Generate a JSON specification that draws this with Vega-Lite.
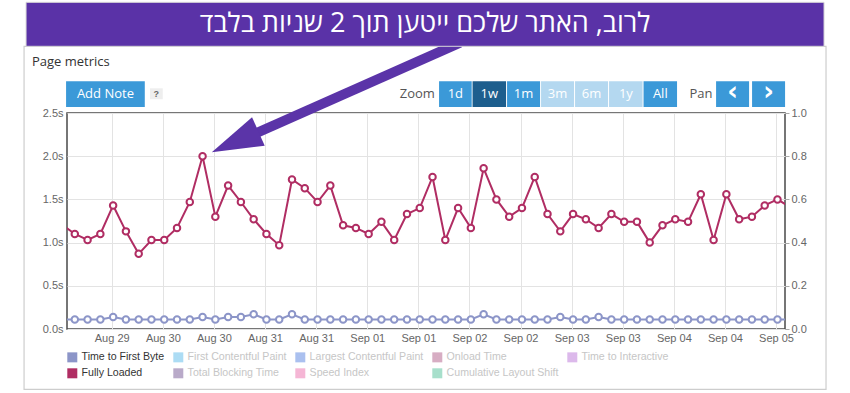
{
  "$schema": "https://vega.github.io/schema/vega-lite/v6.json",
  "width": 718,
  "height": 216,
  "autosize": {"type": "none"},
  "padding": {"left": 67, "top": 113, "right": 65, "bottom": 64},
  "background": "white",
  "config": {
    "view": {"stroke": "#4a4a4a", "strokeWidth": 1.5},
    "axis": {"labelFont": "Liberation Sans", "labelFontSize": 11, "labelColor": "#666666", "gridColor": "#e3e3e3", "gridWidth": 1, "domain": false, "ticks": false}
  },
  "datasets": {
    "metrics": [
      {"t": "2023-08-29T00:20:00Z", "metric": "Fully Loaded", "value": 1.21},
      {"t": "2023-08-29T03:20:00Z", "metric": "Fully Loaded", "value": 1.10},
      {"t": "2023-08-29T06:20:00Z", "metric": "Fully Loaded", "value": 1.03},
      {"t": "2023-08-29T09:20:00Z", "metric": "Fully Loaded", "value": 1.10},
      {"t": "2023-08-29T12:20:00Z", "metric": "Fully Loaded", "value": 1.43},
      {"t": "2023-08-29T15:20:00Z", "metric": "Fully Loaded", "value": 1.13},
      {"t": "2023-08-29T18:20:00Z", "metric": "Fully Loaded", "value": 0.87},
      {"t": "2023-08-29T21:20:00Z", "metric": "Fully Loaded", "value": 1.03},
      {"t": "2023-08-30T00:20:00Z", "metric": "Fully Loaded", "value": 1.03},
      {"t": "2023-08-30T03:20:00Z", "metric": "Fully Loaded", "value": 1.17},
      {"t": "2023-08-30T06:20:00Z", "metric": "Fully Loaded", "value": 1.47},
      {"t": "2023-08-30T09:20:00Z", "metric": "Fully Loaded", "value": 2.00},
      {"t": "2023-08-30T12:20:00Z", "metric": "Fully Loaded", "value": 1.30},
      {"t": "2023-08-30T15:20:00Z", "metric": "Fully Loaded", "value": 1.66},
      {"t": "2023-08-30T18:20:00Z", "metric": "Fully Loaded", "value": 1.47},
      {"t": "2023-08-30T21:20:00Z", "metric": "Fully Loaded", "value": 1.27},
      {"t": "2023-08-31T00:20:00Z", "metric": "Fully Loaded", "value": 1.10},
      {"t": "2023-08-31T03:20:00Z", "metric": "Fully Loaded", "value": 0.97},
      {"t": "2023-08-31T06:20:00Z", "metric": "Fully Loaded", "value": 1.73},
      {"t": "2023-08-31T09:20:00Z", "metric": "Fully Loaded", "value": 1.63},
      {"t": "2023-08-31T12:20:00Z", "metric": "Fully Loaded", "value": 1.47},
      {"t": "2023-08-31T15:20:00Z", "metric": "Fully Loaded", "value": 1.66},
      {"t": "2023-08-31T18:20:00Z", "metric": "Fully Loaded", "value": 1.20},
      {"t": "2023-08-31T21:20:00Z", "metric": "Fully Loaded", "value": 1.17},
      {"t": "2023-09-01T00:20:00Z", "metric": "Fully Loaded", "value": 1.10},
      {"t": "2023-09-01T03:20:00Z", "metric": "Fully Loaded", "value": 1.24},
      {"t": "2023-09-01T06:20:00Z", "metric": "Fully Loaded", "value": 1.03},
      {"t": "2023-09-01T09:20:00Z", "metric": "Fully Loaded", "value": 1.33},
      {"t": "2023-09-01T12:20:00Z", "metric": "Fully Loaded", "value": 1.40},
      {"t": "2023-09-01T15:20:00Z", "metric": "Fully Loaded", "value": 1.76},
      {"t": "2023-09-01T18:20:00Z", "metric": "Fully Loaded", "value": 1.03},
      {"t": "2023-09-01T21:20:00Z", "metric": "Fully Loaded", "value": 1.40},
      {"t": "2023-09-02T00:20:00Z", "metric": "Fully Loaded", "value": 1.17},
      {"t": "2023-09-02T03:20:00Z", "metric": "Fully Loaded", "value": 1.86},
      {"t": "2023-09-02T06:20:00Z", "metric": "Fully Loaded", "value": 1.50},
      {"t": "2023-09-02T09:20:00Z", "metric": "Fully Loaded", "value": 1.30},
      {"t": "2023-09-02T12:20:00Z", "metric": "Fully Loaded", "value": 1.40},
      {"t": "2023-09-02T15:20:00Z", "metric": "Fully Loaded", "value": 1.76},
      {"t": "2023-09-02T18:20:00Z", "metric": "Fully Loaded", "value": 1.33},
      {"t": "2023-09-02T21:20:00Z", "metric": "Fully Loaded", "value": 1.13},
      {"t": "2023-09-03T00:20:00Z", "metric": "Fully Loaded", "value": 1.33},
      {"t": "2023-09-03T03:20:00Z", "metric": "Fully Loaded", "value": 1.27},
      {"t": "2023-09-03T06:20:00Z", "metric": "Fully Loaded", "value": 1.17},
      {"t": "2023-09-03T09:20:00Z", "metric": "Fully Loaded", "value": 1.33},
      {"t": "2023-09-03T12:20:00Z", "metric": "Fully Loaded", "value": 1.24},
      {"t": "2023-09-03T15:20:00Z", "metric": "Fully Loaded", "value": 1.24},
      {"t": "2023-09-03T18:20:00Z", "metric": "Fully Loaded", "value": 1.00},
      {"t": "2023-09-03T21:20:00Z", "metric": "Fully Loaded", "value": 1.20},
      {"t": "2023-09-04T00:20:00Z", "metric": "Fully Loaded", "value": 1.27},
      {"t": "2023-09-04T03:20:00Z", "metric": "Fully Loaded", "value": 1.24},
      {"t": "2023-09-04T06:20:00Z", "metric": "Fully Loaded", "value": 1.56},
      {"t": "2023-09-04T09:20:00Z", "metric": "Fully Loaded", "value": 1.03},
      {"t": "2023-09-04T12:20:00Z", "metric": "Fully Loaded", "value": 1.56},
      {"t": "2023-09-04T15:20:00Z", "metric": "Fully Loaded", "value": 1.27},
      {"t": "2023-09-04T18:20:00Z", "metric": "Fully Loaded", "value": 1.30},
      {"t": "2023-09-04T21:20:00Z", "metric": "Fully Loaded", "value": 1.43},
      {"t": "2023-09-05T00:20:00Z", "metric": "Fully Loaded", "value": 1.50},
      {"t": "2023-09-05T03:20:00Z", "metric": "Fully Loaded", "value": 1.41},
      {"t": "2023-08-29T00:20:00Z", "metric": "Time to First Byte", "value": 0.11},
      {"t": "2023-08-29T03:20:00Z", "metric": "Time to First Byte", "value": 0.11},
      {"t": "2023-08-29T06:20:00Z", "metric": "Time to First Byte", "value": 0.11},
      {"t": "2023-08-29T09:20:00Z", "metric": "Time to First Byte", "value": 0.11},
      {"t": "2023-08-29T12:20:00Z", "metric": "Time to First Byte", "value": 0.14},
      {"t": "2023-08-29T15:20:00Z", "metric": "Time to First Byte", "value": 0.11},
      {"t": "2023-08-29T18:20:00Z", "metric": "Time to First Byte", "value": 0.11},
      {"t": "2023-08-29T21:20:00Z", "metric": "Time to First Byte", "value": 0.11},
      {"t": "2023-08-30T00:20:00Z", "metric": "Time to First Byte", "value": 0.11},
      {"t": "2023-08-30T03:20:00Z", "metric": "Time to First Byte", "value": 0.11},
      {"t": "2023-08-30T06:20:00Z", "metric": "Time to First Byte", "value": 0.11},
      {"t": "2023-08-30T09:20:00Z", "metric": "Time to First Byte", "value": 0.14},
      {"t": "2023-08-30T12:20:00Z", "metric": "Time to First Byte", "value": 0.11},
      {"t": "2023-08-30T15:20:00Z", "metric": "Time to First Byte", "value": 0.14},
      {"t": "2023-08-30T18:20:00Z", "metric": "Time to First Byte", "value": 0.14},
      {"t": "2023-08-30T21:20:00Z", "metric": "Time to First Byte", "value": 0.17},
      {"t": "2023-08-31T00:20:00Z", "metric": "Time to First Byte", "value": 0.11},
      {"t": "2023-08-31T03:20:00Z", "metric": "Time to First Byte", "value": 0.11},
      {"t": "2023-08-31T06:20:00Z", "metric": "Time to First Byte", "value": 0.17},
      {"t": "2023-08-31T09:20:00Z", "metric": "Time to First Byte", "value": 0.11},
      {"t": "2023-08-31T12:20:00Z", "metric": "Time to First Byte", "value": 0.11},
      {"t": "2023-08-31T15:20:00Z", "metric": "Time to First Byte", "value": 0.11},
      {"t": "2023-08-31T18:20:00Z", "metric": "Time to First Byte", "value": 0.11},
      {"t": "2023-08-31T21:20:00Z", "metric": "Time to First Byte", "value": 0.11},
      {"t": "2023-09-01T00:20:00Z", "metric": "Time to First Byte", "value": 0.11},
      {"t": "2023-09-01T03:20:00Z", "metric": "Time to First Byte", "value": 0.11},
      {"t": "2023-09-01T06:20:00Z", "metric": "Time to First Byte", "value": 0.11},
      {"t": "2023-09-01T09:20:00Z", "metric": "Time to First Byte", "value": 0.11},
      {"t": "2023-09-01T12:20:00Z", "metric": "Time to First Byte", "value": 0.11},
      {"t": "2023-09-01T15:20:00Z", "metric": "Time to First Byte", "value": 0.11},
      {"t": "2023-09-01T18:20:00Z", "metric": "Time to First Byte", "value": 0.11},
      {"t": "2023-09-01T21:20:00Z", "metric": "Time to First Byte", "value": 0.11},
      {"t": "2023-09-02T00:20:00Z", "metric": "Time to First Byte", "value": 0.11},
      {"t": "2023-09-02T03:20:00Z", "metric": "Time to First Byte", "value": 0.17},
      {"t": "2023-09-02T06:20:00Z", "metric": "Time to First Byte", "value": 0.11},
      {"t": "2023-09-02T09:20:00Z", "metric": "Time to First Byte", "value": 0.11},
      {"t": "2023-09-02T12:20:00Z", "metric": "Time to First Byte", "value": 0.11},
      {"t": "2023-09-02T15:20:00Z", "metric": "Time to First Byte", "value": 0.11},
      {"t": "2023-09-02T18:20:00Z", "metric": "Time to First Byte", "value": 0.11},
      {"t": "2023-09-02T21:20:00Z", "metric": "Time to First Byte", "value": 0.14},
      {"t": "2023-09-03T00:20:00Z", "metric": "Time to First Byte", "value": 0.11},
      {"t": "2023-09-03T03:20:00Z", "metric": "Time to First Byte", "value": 0.11},
      {"t": "2023-09-03T06:20:00Z", "metric": "Time to First Byte", "value": 0.14},
      {"t": "2023-09-03T09:20:00Z", "metric": "Time to First Byte", "value": 0.11},
      {"t": "2023-09-03T12:20:00Z", "metric": "Time to First Byte", "value": 0.11},
      {"t": "2023-09-03T15:20:00Z", "metric": "Time to First Byte", "value": 0.11},
      {"t": "2023-09-03T18:20:00Z", "metric": "Time to First Byte", "value": 0.11},
      {"t": "2023-09-03T21:20:00Z", "metric": "Time to First Byte", "value": 0.11},
      {"t": "2023-09-04T00:20:00Z", "metric": "Time to First Byte", "value": 0.11},
      {"t": "2023-09-04T03:20:00Z", "metric": "Time to First Byte", "value": 0.11},
      {"t": "2023-09-04T06:20:00Z", "metric": "Time to First Byte", "value": 0.11},
      {"t": "2023-09-04T09:20:00Z", "metric": "Time to First Byte", "value": 0.11},
      {"t": "2023-09-04T12:20:00Z", "metric": "Time to First Byte", "value": 0.11},
      {"t": "2023-09-04T15:20:00Z", "metric": "Time to First Byte", "value": 0.11},
      {"t": "2023-09-04T18:20:00Z", "metric": "Time to First Byte", "value": 0.11},
      {"t": "2023-09-04T21:20:00Z", "metric": "Time to First Byte", "value": 0.11},
      {"t": "2023-09-05T00:20:00Z", "metric": "Time to First Byte", "value": 0.11},
      {"t": "2023-09-05T03:20:00Z", "metric": "Time to First Byte", "value": 0.11}
    ],
    "toolbar": [
      {"label": "Add Note", "kind": "button", "x0": "2023-08-29T01:17:00Z", "x1": "2023-08-29T19:46:00Z", "xm": "2023-08-29T10:31:00Z"},
      {"label": "?", "kind": "help", "xm": "2023-08-29T22:29:00Z"},
      {"label": "Zoom", "kind": "label", "xm": "2023-09-01T11:46:00Z"},
      {"label": "1d", "kind": "button", "x0": "2023-09-01T16:52:00Z", "x1": "2023-09-02T00:32:00Z", "xm": "2023-09-01T20:41:00Z"},
      {"label": "1w", "kind": "selected", "x0": "2023-09-02T00:44:00Z", "x1": "2023-09-02T08:36:00Z", "xm": "2023-09-02T04:39:00Z"},
      {"label": "1m", "kind": "button", "x0": "2023-09-02T08:50:00Z", "x1": "2023-09-02T16:35:00Z", "xm": "2023-09-02T12:43:00Z"},
      {"label": "3m", "kind": "disabled", "x0": "2023-09-02T16:49:00Z", "x1": "2023-09-03T00:34:00Z", "xm": "2023-09-02T20:41:00Z"},
      {"label": "6m", "kind": "disabled", "x0": "2023-09-03T00:48:00Z", "x1": "2023-09-03T08:33:00Z", "xm": "2023-09-03T04:40:00Z"},
      {"label": "1y", "kind": "disabled", "x0": "2023-09-03T08:47:00Z", "x1": "2023-09-03T16:39:00Z", "xm": "2023-09-03T12:44:00Z"},
      {"label": "All", "kind": "button", "x0": "2023-09-03T16:53:00Z", "x1": "2023-09-04T00:45:00Z", "xm": "2023-09-03T20:49:00Z"},
      {"label": "Pan", "kind": "label", "xm": "2023-09-04T06:23:00Z"},
      {"label": "‹", "kind": "nav", "x0": "2023-09-04T09:55:00Z", "x1": "2023-09-04T17:40:00Z", "xm": "2023-09-04T13:47:00Z"},
      {"label": "›", "kind": "nav", "x0": "2023-09-04T18:22:00Z", "x1": "2023-09-05T02:07:00Z", "xm": "2023-09-04T22:14:00Z"}
    ]
  },
  "layer": [
    {
      "layer": [
        {
          "data": {"values": [{}]},
          "mark": {"type": "rect", "fill": null, "stroke": "#cdcdcd", "strokeWidth": 1.2, "clip": false},
          "encoding": {
            "x": {"datum": {"year": 2023, "month": 8, "date": 28, "hours": 15, "minutes": 25, "utc": true}, "type": "temporal", "title": null},
            "x2": {"datum": {"year": 2023, "month": 9, "date": 5, "hours": 11, "minutes": 44, "utc": true}},
            "y": {"datum": 3.272, "type": "quantitative", "title": null},
            "y2": {"datum": -0.698}
          }
        },
        {
          "data": {"name": "metrics"},
          "mark": {"type": "line", "strokeWidth": 2, "clip": true},
          "encoding": {
            "x": {
              "field": "t", "type": "temporal", "title": null,
              "scale": {"type": "utc", "domain": [{"year": 2023, "month": 8, "date": 29, "hours": 1, "minutes": 30, "utc": true}, {"year": 2023, "month": 9, "date": 5, "hours": 2, "minutes": 6, "utc": true}], "nice": false},
              "axis": {
                "values": [
                  {"year": 2023, "month": 8, "date": 29, "hours": 12, "utc": true},
                  {"year": 2023, "month": 8, "date": 30, "hours": 0, "utc": true},
                  {"year": 2023, "month": 8, "date": 30, "hours": 12, "utc": true},
                  {"year": 2023, "month": 8, "date": 31, "hours": 0, "utc": true},
                  {"year": 2023, "month": 8, "date": 31, "hours": 12, "utc": true},
                  {"year": 2023, "month": 9, "date": 1, "hours": 0, "utc": true},
                  {"year": 2023, "month": 9, "date": 1, "hours": 12, "utc": true},
                  {"year": 2023, "month": 9, "date": 2, "hours": 0, "utc": true},
                  {"year": 2023, "month": 9, "date": 2, "hours": 12, "utc": true},
                  {"year": 2023, "month": 9, "date": 3, "hours": 0, "utc": true},
                  {"year": 2023, "month": 9, "date": 3, "hours": 12, "utc": true},
                  {"year": 2023, "month": 9, "date": 4, "hours": 0, "utc": true},
                  {"year": 2023, "month": 9, "date": 4, "hours": 12, "utc": true},
                  {"year": 2023, "month": 9, "date": 5, "hours": 0, "utc": true}
                ],
                "labelExpr": "utcFormat(datum.value, '%b %d')",
                "grid": true, "labelPadding": 3, "labelFlush": false, "labelOverlap": false, "title": null
              }
            },
            "y": {
              "field": "value", "type": "quantitative", "title": null,
              "scale": {"domain": [0, 2.5], "nice": false, "zero": true},
              "axis": {"values": [0, 0.5, 1, 1.5, 2, 2.5], "labelExpr": "format(datum.value, '.1f') + 's'", "grid": true, "labelPadding": 4, "title": null}
            },
            "color": {
              "field": "metric", "type": "nominal",
              "scale": {
                "domain": ["Time to First Byte", "First Contentful Paint", "Largest Contentful Paint", "Onload Time", "Time to Interactive", "Fully Loaded", "Total Blocking Time", "Speed Index", "Cumulative Layout Shift"],
                "range": ["#8c95c8", "#acdcf4", "#aac0ef", "#d7adc3", "#dcb9eb", "#b02d63", "#b9aac9", "#f5b6d5", "#a7dfcb"]
              },
              "legend": {
                "orient": "bottom", "direction": "horizontal", "columns": 5, "title": null,
                "symbolType": "square", "symbolSize": 100, "symbolStrokeWidth": 0,
                "labelFont": "Liberation Sans", "labelFontSize": 10.6, "labelOffset": 4, "labelLimit": 250,
                "columnPadding": 8, "rowPadding": 5, "offset": 9, "padding": 0,
                "encode": {
                  "symbols": {"update": {"fill": {"scale": "color", "field": "value"}, "opacity": {"value": 1}}},
                  "labels": {"update": {"fill": {"signal": "datum.value === 'Time to First Byte' || datum.value === 'Fully Loaded' ? '#333333' : '#c6c6c6'"}}}
                }
              }
            }
          }
        },
        {
          "data": {"name": "metrics"},
          "mark": {"type": "point", "shape": "circle", "filled": false, "fill": "white", "size": 42, "strokeWidth": 2, "opacity": 1, "clip": true},
          "encoding": {
            "x": {"field": "t", "type": "temporal", "title": null},
            "y": {"field": "value", "type": "quantitative", "title": null},
            "color": {"field": "metric", "type": "nominal"}
          }
        },
        {
          "data": {"values": [{}]},
          "mark": {"type": "rule", "stroke": "#5b34a8", "strokeWidth": 10, "strokeCap": "butt", "clip": false},
          "encoding": {
            "x": {"datum": {"year": 2023, "month": 9, "date": 1, "hours": 21, "minutes": 47, "utc": true}, "type": "temporal", "title": null},
            "x2": {"datum": {"year": 2023, "month": 8, "date": 30, "hours": 18, "minutes": 8, "utc": true}},
            "y": {"datum": 3.3125, "type": "quantitative", "title": null},
            "y2": {"datum": 2.184}
          }
        },
        {
          "data": {"values": [{}]},
          "mark": {"type": "point", "shape": "M0,-1L0.61,1L-0.61,1Z", "size": 2601, "angle": 246, "filled": true, "fill": "#5b34a8", "opacity": 1, "strokeWidth": 0, "clip": false},
          "encoding": {
            "x": {"datum": {"year": 2023, "month": 8, "date": 30, "hours": 16, "minutes": 58, "utc": true}, "type": "temporal", "title": null},
            "y": {"datum": 2.1667, "type": "quantitative", "title": null}
          }
        },
        {
          "data": {"values": [{}]},
          "mark": {"type": "rect", "fill": "#5a32a7", "stroke": "#d9d9d9", "strokeWidth": 1, "clip": false},
          "encoding": {
            "x": {"datum": {"year": 2023, "month": 8, "date": 28, "hours": 15, "minutes": 53, "utc": true}, "type": "temporal", "title": null},
            "x2": {"datum": {"year": 2023, "month": 9, "date": 5, "hours": 11, "minutes": 16, "utc": true}},
            "y": {"datum": 3.781, "type": "quantitative", "title": null},
            "y2": {"datum": 3.272}
          }
        },
        {
          "data": {"values": [{"banner": "לרוב, האתר שלכם ייטען תוך 2 שניות בלבד"}]},
          "mark": {"type": "text", "color": "white", "font": "Open Sans", "fontSize": 27, "align": "center", "baseline": "middle", "clip": false},
          "encoding": {
            "text": {"field": "banner"},
            "x": {"datum": {"year": 2023, "month": 9, "date": 1, "hours": 13, "minutes": 35, "utc": true}, "type": "temporal", "title": null},
            "y": {"datum": 3.527, "type": "quantitative", "title": null}
          }
        },
        {
          "data": {"values": [{"caption": "Page metrics"}]},
          "mark": {"type": "text", "color": "#333333", "font": "Open Sans", "fontSize": 13, "align": "left", "baseline": "alphabetic", "clip": false},
          "encoding": {
            "text": {"field": "caption"},
            "x": {"datum": {"year": 2023, "month": 8, "date": 28, "hours": 17, "minutes": 17, "utc": true}, "type": "temporal", "title": null},
            "y": {"datum": 3.04, "type": "quantitative", "title": null}
          }
        },
        {
          "data": {"name": "toolbar"},
          "transform": [{"filter": "datum.kind === 'button' || datum.kind === 'selected' || datum.kind === 'disabled' || datum.kind === 'nav'"}],
          "mark": {"type": "rect", "clip": false},
          "encoding": {
            "x": {"field": "x0", "type": "temporal", "title": null},
            "x2": {"field": "x1"},
            "y": {"datum": 2.867, "type": "quantitative", "title": null},
            "y2": {"datum": 2.569},
            "fill": {"field": "kind", "type": "nominal", "scale": {"domain": ["button", "selected", "disabled", "nav"], "range": ["#3b99d8", "#1d5e8d", "#b4d8f0", "#3b99d8"]}, "legend": null}
          }
        },
        {
          "data": {"values": [{}]},
          "mark": {"type": "rect", "fill": "#eeeeee", "clip": false},
          "encoding": {
            "x": {"datum": {"year": 2023, "month": 8, "date": 29, "hours": 21, "minutes": 0, "utc": true}, "type": "temporal", "title": null},
            "x2": {"datum": {"year": 2023, "month": 8, "date": 29, "hours": 23, "minutes": 59, "utc": true}},
            "y": {"datum": 2.786, "type": "quantitative", "title": null},
            "y2": {"datum": 2.659}
          }
        },
        {
          "data": {"name": "toolbar"},
          "transform": [{"filter": "datum.kind === 'button' || datum.kind === 'selected' || datum.kind === 'disabled'"}],
          "mark": {"type": "text", "color": "white", "font": "Open Sans", "fontSize": 13, "align": "center", "baseline": "middle", "clip": false},
          "encoding": {
            "text": {"field": "label"},
            "x": {"field": "xm", "type": "temporal", "title": null},
            "y": {"datum": 2.719, "type": "quantitative", "title": null}
          }
        },
        {
          "data": {"name": "toolbar"},
          "transform": [{"filter": "datum.kind === 'nav'"}],
          "mark": {"type": "text", "color": "white", "font": "DejaVu Sans", "fontSize": 26, "fontWeight": "bold", "align": "center", "baseline": "middle", "clip": false},
          "encoding": {
            "text": {"field": "label"},
            "x": {"field": "xm", "type": "temporal", "title": null},
            "y": {"datum": 2.74, "type": "quantitative", "title": null}
          }
        },
        {
          "data": {"name": "toolbar"},
          "transform": [{"filter": "datum.kind === 'label'"}],
          "mark": {"type": "text", "color": "#555555", "font": "Open Sans", "fontSize": 13, "align": "center", "baseline": "middle", "clip": false},
          "encoding": {
            "text": {"field": "label"},
            "x": {"field": "xm", "type": "temporal", "title": null},
            "y": {"datum": 2.719, "type": "quantitative", "title": null}
          }
        },
        {
          "data": {"name": "toolbar"},
          "transform": [{"filter": "datum.kind === 'help'"}],
          "mark": {"type": "text", "color": "#666666", "font": "Liberation Sans", "fontSize": 9, "fontWeight": "bold", "align": "center", "baseline": "middle", "clip": false},
          "encoding": {
            "text": {"field": "label"},
            "x": {"field": "xm", "type": "temporal", "title": null},
            "y": {"datum": 2.722, "type": "quantitative", "title": null}
          }
        }
      ]
    },
    {
      "data": {"values": [{}]},
      "mark": {"type": "rule", "opacity": 0},
      "encoding": {
        "y": {
          "datum": 0, "type": "quantitative", "title": null,
          "scale": {"domain": [0, 1], "nice": false},
          "axis": {"orient": "right", "values": [0, 0.2, 0.4, 0.6, 0.8, 1], "format": ".1f", "grid": false, "ticks": true, "tickSize": 4, "tickColor": "#aaaaaa", "labelPadding": 2, "title": null}
        }
      }
    }
  ],
  "resolve": {"scale": {"y": "independent"}}
}
